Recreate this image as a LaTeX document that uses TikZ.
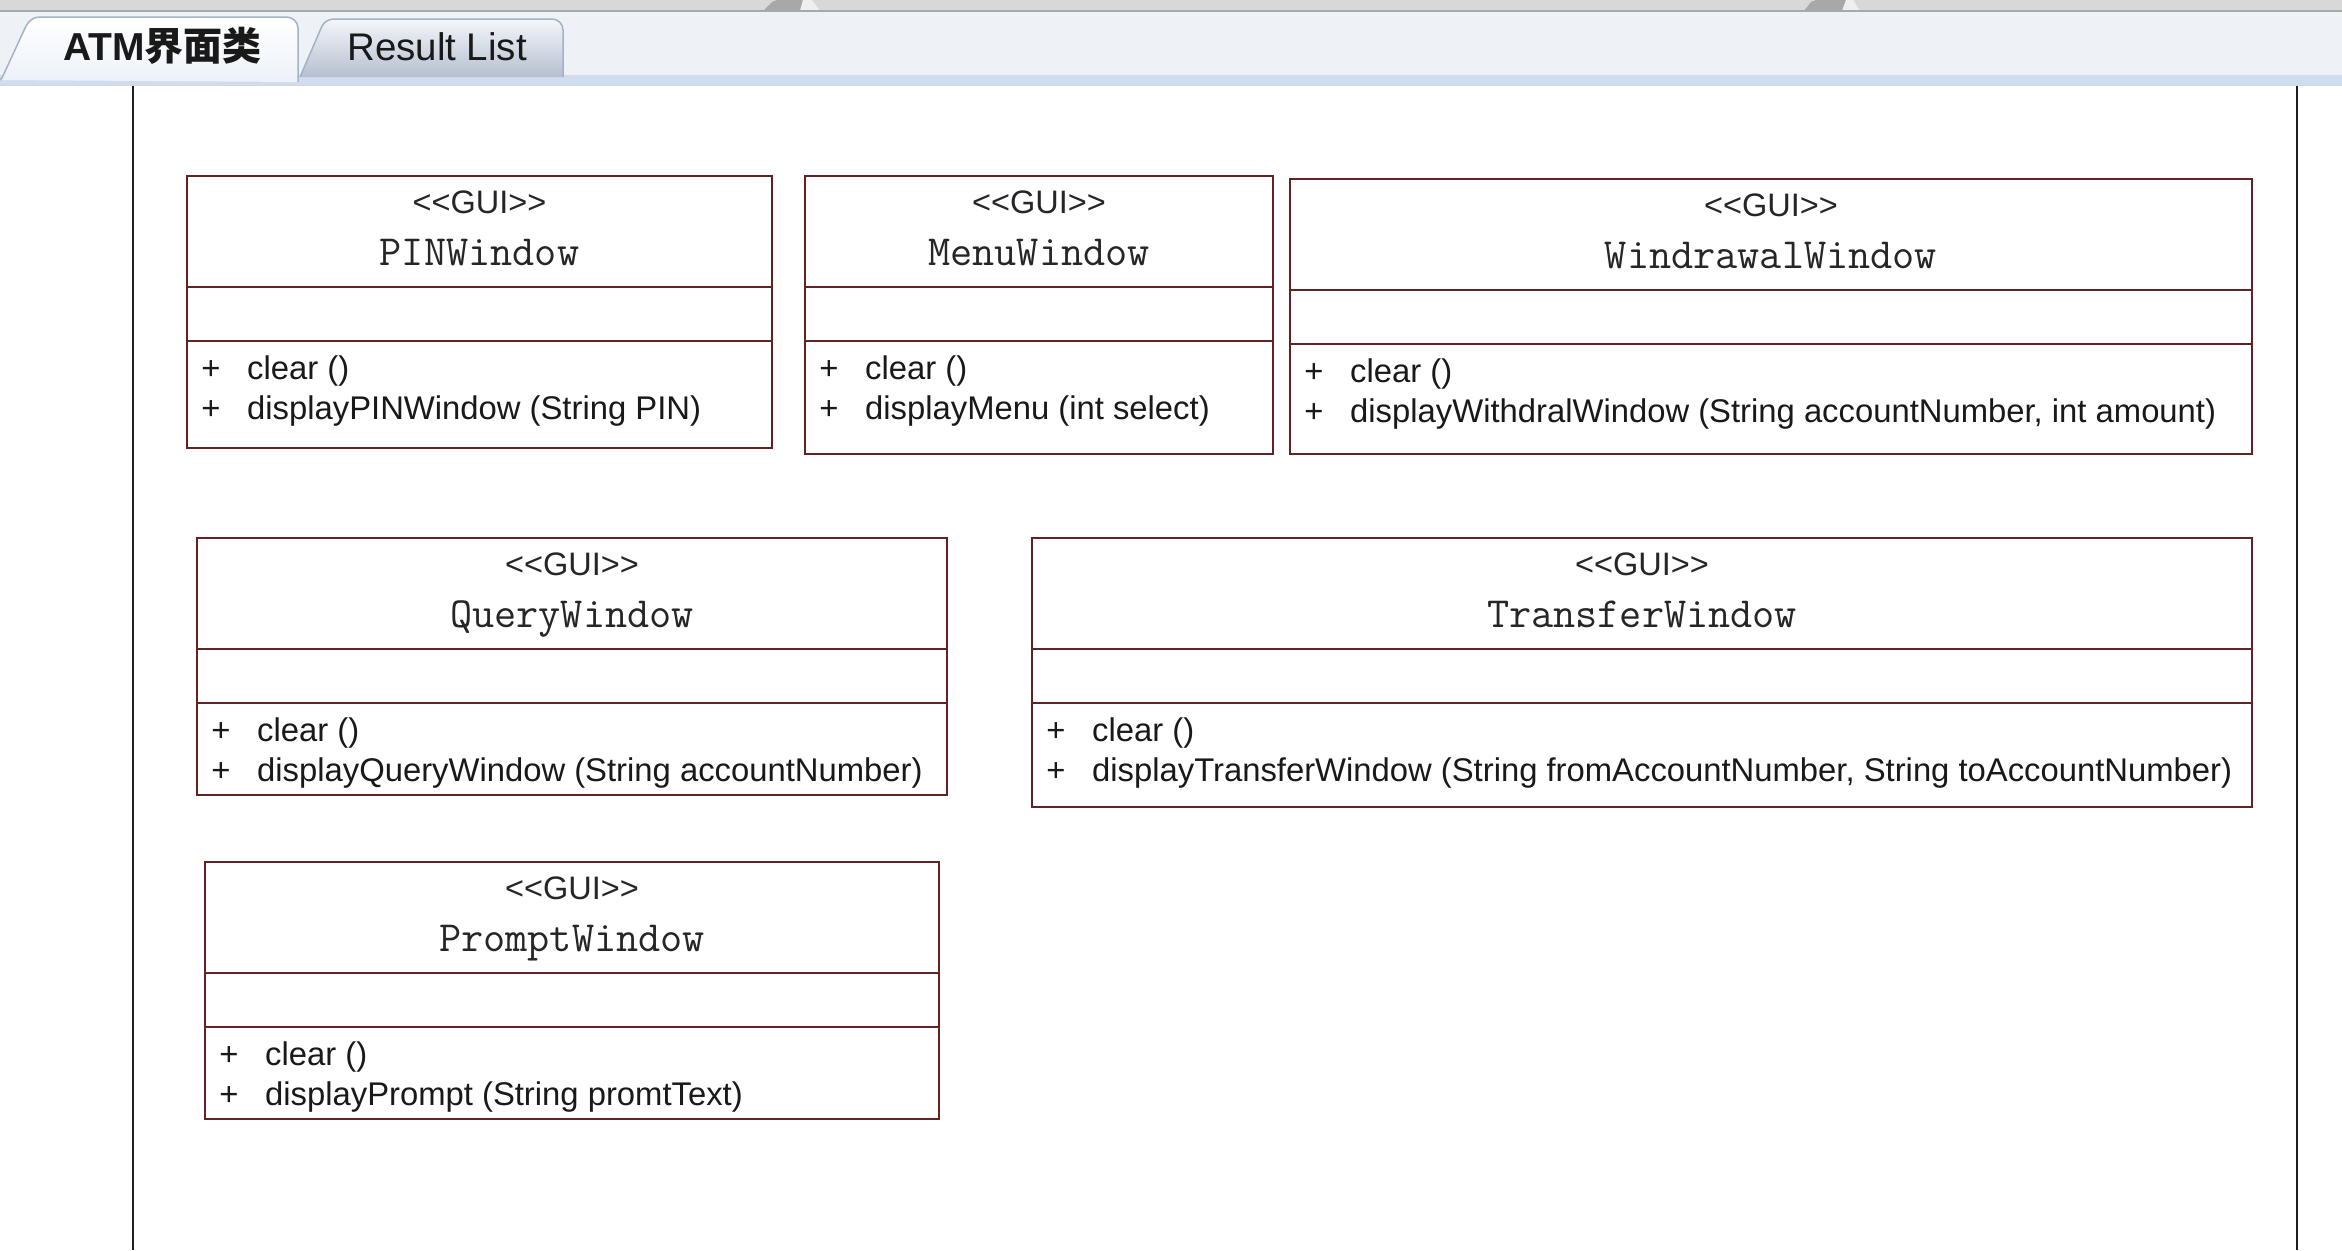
\documentclass[tikz,border=0pt]{standalone}
\usepackage{fontspec}
\setmainfont{Liberation Sans}
\newfontfamily\cjkfont{Noto Sans CJK SC}
\definecolor{umlline}{RGB}{98,34,34}
\definecolor{frameline}{RGB}{30,30,30}
\definecolor{topband}{RGB}{216,216,216}
\definecolor{topsep}{RGB}{168,168,168}
\definecolor{stripbg}{RGB}{238,241,245}
\definecolor{blueband}{RGB}{208,221,240}
\definecolor{taboutline}{RGB}{165,178,196}
\tikzset{
  boxline/.style={draw=umlline, line width=2.4pt},
  stereo/.style={font=\fontsize{32.5}{36}\selectfont, text=black!85, inner sep=0pt, anchor=base},
  titletext/.style={font=\ttfamily\fontsize{43}{48}\selectfont, text=black!85, inner sep=0pt, anchor=base},
  methodtext/.style={font=\fontsize{32.8}{36}\selectfont, text=black!90, anchor=base west, inner sep=0pt},
  plustext/.style={font=\fontsize{32.8}{36}\selectfont, text=black!90, anchor=base, inner sep=0pt},
  tabtext/.style={font=\fontsize{38.5}{42}\selectfont, text=black!90, anchor=base west, inner sep=0pt},
  frame/.style={draw=frameline, line width=2.6pt},
}
% #1 id, #2 x1, #3 y1, #4 x2, #5 y2, #6 title, #7 second method
\newcommand\umlbox[7]{%
  \draw[boxline] (#2,#3) rectangle (#4,#5);
  \draw[boxline] (#2,#3+111) -- (#4,#3+111);
  \draw[boxline] (#2,#3+165) -- (#4,#3+165);
  \node[stereo] (#1-st) at ({(#2+#4)/2},#3+37) {<\kern0pt<GUI>\kern0pt>};
  \node[titletext] (#1-title) at ({(#2+#4)/2},#3+89) {#6};
  \node[plustext] (#1-p1) at (#2+24,#3+203) {+};
  \node[methodtext] (#1-m1) at (#2+60,#3+203) {clear ()};
  \node[plustext] (#1-p2) at (#2+24,#3+243) {+};
  \node[methodtext] (#1-m2) at (#2+60,#3+243) {#7};
}
\begin{document}
\begin{tikzpicture}[x=1pt,y=-1pt]
  \useasboundingbox (0,0) rectangle (2342,1250);
  \fill[white] (0,0) rectangle (2342,1250);
  % top window band
  \fill[topband] (0,0) rectangle (2342,11);
  \fill[topsep] (763,11) -- (772,2) to[out=30,in=180] (790,0) -- (803,0) -- (800,11) -- cycle;
  \fill[white!60!topband] (803,0) -- (812,0) -- (820,11) -- (800,11) -- cycle;
  \fill[topsep] (1804,11) -- (1811,2) to[out=30,in=180] (1828,0) -- (1846,0) -- (1842,11) -- cycle;
  \fill[white!60!topband] (1846,0) -- (1853,0) -- (1860,11) -- (1842,11) -- cycle;
  \draw[topsep, line width=2pt] (0,11) -- (2342,11);
  % tab strip
  \fill[stripbg] (0,12) rectangle (2342,76);
  \fill[blueband] (0,75) rectangle (2342,85);
  \draw[taboutline!50, line width=1pt] (0,85) -- (2342,85);
  % second tab
  \draw[taboutline, line width=1.5pt, top color=white!75!blueband, bottom color=blueband!85!black!95]
    (300,77) -- (322,26) to[out=60,in=180] (335,19) -- (552,19) to[out=0,in=90] (563,30) -- (563,77);
  % active tab
  \draw[taboutline, line width=1.5pt, top color=white, bottom color=white!60!blueband]
    (0,80) -- (2,78) -- (26,26) to[out=60,in=180] (40,17) -- (286,17) to[out=0,in=90] (298,28) -- (298,82);
  \node[tabtext, font=\bfseries\fontsize{39}{42}\selectfont] (tab1) at (63,60) {ATM{\cjkfont 界面类}};
  \node[tabtext] (tab2) at (347,60) {Result List};
  % frame lines
  \draw[frame] (133,86) -- (133,1250);
  \draw[frame] (2297,86) -- (2297,1250);
  % classes
  \umlbox{pin}{187}{176}{772}{448}{PINWindow}{displayPINWindow (String PIN)}
  \umlbox{menu}{805}{176}{1273}{454}{MenuWindow}{displayMenu (int select)}
  \umlbox{wd}{1290}{179}{2252}{454}{WindrawalWindow}{displayWithdralWindow (String accountNumber, int amount)}
  \umlbox{query}{197}{538}{947}{795}{QueryWindow}{displayQueryWindow (String accountNumber)}
  \umlbox{transfer}{1032}{538}{2252}{807}{TransferWindow}{displayTransferWindow (String fromAccountNumber, String toAccountNumber)}
  \umlbox{prompt}{205}{862}{939}{1119}{PromptWindow}{displayPrompt (String promtText)}
\end{tikzpicture}
\end{document}
